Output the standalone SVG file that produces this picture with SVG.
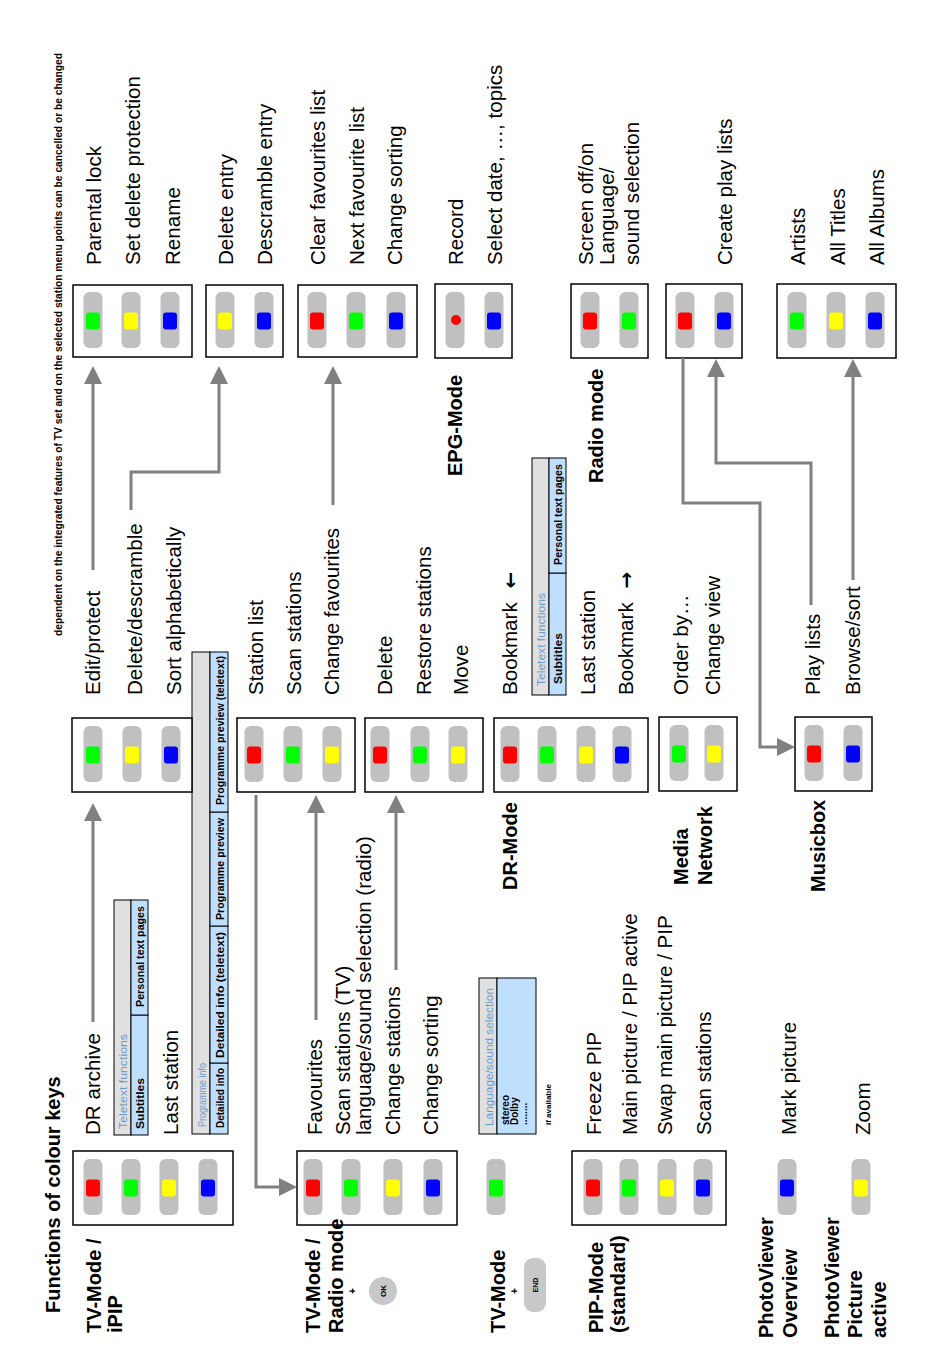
<svg xmlns="http://www.w3.org/2000/svg" xmlns:xlink="http://www.w3.org/1999/xlink" width="950" height="1369" viewBox="0 0 950 1369">
<style>
.box{fill:#fff;stroke:#000;stroke-width:1.5}
.key{fill:#c0c0c0}
.r{fill:#f00}.g{fill:#0f0}.y{fill:#ff0}.b{fill:#00f}
text{font-family:'Liberation Sans',Arial,sans-serif}
.t{font-size:20.6px}
.m{font-size:20px;font-weight:bold}
.hdr{fill:#e0e0e0;stroke:#000;stroke-width:1}
.cell{fill:#bfdfff;stroke:#000;stroke-width:1}
.ht{font-size:10.5px;fill:#6a9bd0}
.ct{font-size:10.5px;font-weight:bold}
.ar{font-family:'DejaVu Sans',sans-serif;font-weight:bold;font-size:20px}
.conn{fill:none;stroke:#808080;stroke-width:3}
</style>
<defs>
<rect id="k" class="key" x="-9.5" y="-28" width="19" height="56" rx="6"/>
<rect id="sq" x="-7" y="-8.5" width="14" height="17" rx="3"/>
<marker id="ah" markerUnits="userSpaceOnUse" markerWidth="18" markerHeight="18" viewBox="0 0 18 18" refX="0" refY="9" orient="auto">
<path d="M0,0 L18,9 L0,18 z" fill="#808080"/>
</marker>
</defs>
<rect width="950" height="1369" fill="#fff"/>

<g id="note"><text transform="translate(62,636) rotate(-90)" style="font-size:10px;font-weight:bold" textLength="583" lengthAdjust="spacingAndGlyphs">dependent on the integrated features of TV set and on the selected station menu points can be cancelled or be changed</text></g>
<g id="title"><text class="m" transform="translate(60,1313) rotate(-90)">Functions of colour keys</text></g>

<!-- Row 1 -->
<g id="tv-ipip">
<rect class="box" x="73" y="1151" width="160" height="74"/>
<use href="#k" x="93" y="1187"/><use href="#sq" class="r" x="93" y="1188"/>
<use href="#k" x="131" y="1187"/><use href="#sq" class="g" x="131" y="1188"/>
<use href="#k" x="169" y="1187"/><use href="#sq" class="y" x="169" y="1188"/>
<use href="#k" x="208" y="1187"/><use href="#sq" class="b" x="208" y="1188"/>
<text class="m" transform="translate(101,1333) rotate(-90)">TV-Mode /</text>
<text class="m" transform="translate(122,1333) rotate(-90)">iPIP</text>
</g>
<g id="tv-ipip-items">
<text class="t" transform="translate(100,1135) rotate(-90)">DR archive</text>
<text class="t" transform="translate(178,1135) rotate(-90)">Last station</text>
</g>
<g id="teletext1">
<rect class="hdr" x="114" y="900" width="17" height="235"/>
<rect class="cell" x="131" y="1015" width="17" height="120"/>
<rect class="cell" x="131" y="900" width="17" height="115"/>
<text class="ht" transform="translate(127,1129) rotate(-90)" textLength="95" lengthAdjust="spacingAndGlyphs">Teletext functions</text>
<text class="ct" transform="translate(144,1129) rotate(-90)" textLength="51" lengthAdjust="spacingAndGlyphs">Subtitles</text>
<text class="ct" transform="translate(144,1007) rotate(-90)" textLength="101" lengthAdjust="spacingAndGlyphs">Personal text pages</text>
</g>
<g id="proginfo">
<rect class="hdr" x="192" y="652" width="18" height="482"/>
<rect class="cell" x="210" y="1063" width="18" height="71"/>
<rect class="cell" x="210" y="926" width="18" height="137"/>
<rect class="cell" x="210" y="812" width="18" height="114"/>
<rect class="cell" x="210" y="652" width="18" height="160"/>
<text class="ht" transform="translate(206,1127) rotate(-90)" textLength="64" lengthAdjust="spacingAndGlyphs">Programme info</text>
<text class="ct" transform="translate(224,1128) rotate(-90)" textLength="60" lengthAdjust="spacingAndGlyphs">Detailed info</text>
<text class="ct" transform="translate(224,1058) rotate(-90)" textLength="126" lengthAdjust="spacingAndGlyphs">Detailed info (teletext)</text>
<text class="ct" transform="translate(224,920) rotate(-90)" textLength="102" lengthAdjust="spacingAndGlyphs">Programme preview</text>
<text class="ct" transform="translate(224,805) rotate(-90)" textLength="149" lengthAdjust="spacingAndGlyphs">Programme preview (teletext)</text>
</g>

<g id="tv-radio">
<rect class="box" x="297" y="1151" width="160" height="74"/>
<use href="#k" x="313" y="1187"/><use href="#sq" class="r" x="313" y="1188"/>
<use href="#k" x="351" y="1187"/><use href="#sq" class="g" x="351" y="1188"/>
<use href="#k" x="393" y="1187"/><use href="#sq" class="y" x="393" y="1188"/>
<use href="#k" x="433" y="1187"/><use href="#sq" class="b" x="433" y="1188"/>
<text class="m" transform="translate(320,1333) rotate(-90)">TV-Mode /</text>
<text class="m" transform="translate(343,1333) rotate(-90)">Radio mode</text>
<text transform="translate(356,1294) rotate(-90)" style="font-size:10px;font-weight:bold">+</text>
<circle cx="383" cy="1291" r="14" fill="#c8c8c8"/>
<text transform="translate(386,1291) rotate(-90)" style="font-size:8px;font-weight:bold" text-anchor="middle">OK</text>
</g>
<g id="tv-radio-items">
<text class="t" transform="translate(322,1135) rotate(-90)">Favourites</text>
<text class="t" transform="translate(350,1135) rotate(-90)">Scan stations (TV)</text>
<text class="t" transform="translate(371,1135) rotate(-90)">language/sound selection (radio)</text>
<text class="t" transform="translate(400,1135) rotate(-90)">Change stations</text>
<text class="t" transform="translate(438,1135) rotate(-90)">Change sorting</text>
</g>

<g id="tv-end">
<use href="#k" x="496" y="1187"/><use href="#sq" class="g" x="496" y="1188"/>
<text class="m" transform="translate(505,1333) rotate(-90)">TV-Mode</text>
<text transform="translate(518,1294) rotate(-90)" style="font-size:10px;font-weight:bold">+</text>
<rect x="524" y="1258" width="22" height="54" rx="9" fill="#c8c8c8"/>
<text transform="translate(538,1285) rotate(-90)" style="font-size:7px;font-weight:bold" text-anchor="middle">END</text>
</g>
<g id="langsel">
<rect class="hdr" x="479" y="978" width="18" height="156"/>
<rect class="cell" x="497" y="978" width="39" height="156"/>
<text class="ht" transform="translate(493,1126) rotate(-90)" textLength="138" lengthAdjust="spacingAndGlyphs">Language/sound selection</text>
<text transform="translate(509,1125) rotate(-90)" style="font-size:10px;font-weight:bold">stereo</text>
<text transform="translate(518,1125) rotate(-90)" style="font-size:10px;font-weight:bold">Dolby</text>
<text transform="translate(527,1125) rotate(-90)" style="font-size:10px;font-weight:bold">........</text>
<text transform="translate(551,1125) rotate(-90)" style="font-size:8px;font-weight:bold">if available</text>
</g>

<g id="pip">
<rect class="box" x="572" y="1151" width="154" height="74"/>
<use href="#k" x="593" y="1187"/><use href="#sq" class="r" x="593" y="1188"/>
<use href="#k" x="629" y="1187"/><use href="#sq" class="g" x="629" y="1188"/>
<use href="#k" x="667" y="1187"/><use href="#sq" class="y" x="667" y="1188"/>
<use href="#k" x="703" y="1187"/><use href="#sq" class="b" x="703" y="1188"/>
<text class="m" transform="translate(603,1333) rotate(-90)">PIP-Mode</text>
<text class="m" transform="translate(625,1333) rotate(-90)">(standard)</text>
</g>
<g id="pip-items">
<text class="t" transform="translate(601,1135) rotate(-90)">Freeze PIP</text>
<text class="t" transform="translate(637,1135) rotate(-90)">Main picture / PIP active</text>
<text class="t" transform="translate(672,1135) rotate(-90)">Swap main picture / PIP</text>
<text class="t" transform="translate(711,1135) rotate(-90)">Scan stations</text>
</g>

<g id="photo-overview">
<use href="#k" x="787" y="1187"/><use href="#sq" class="b" x="787" y="1188"/>
<text class="m" transform="translate(773,1338) rotate(-90)">PhotoViewer</text>
<text class="m" transform="translate(797,1338) rotate(-90)">Overview</text>
<text class="t" transform="translate(796,1135) rotate(-90)">Mark picture</text>
</g>
<g id="photo-active">
<use href="#k" x="861" y="1187"/><use href="#sq" class="y" x="861" y="1188"/>
<text class="m" transform="translate(839,1338) rotate(-90)">PhotoViewer</text>
<text class="m" transform="translate(862,1338) rotate(-90)">Picture</text>
<text class="m" transform="translate(886,1338) rotate(-90)">active</text>
<text class="t" transform="translate(870,1135) rotate(-90)">Zoom</text>
</g>

<!-- Row 2 -->
<g id="dr-archive">
<rect class="box" x="72" y="718" width="120" height="74"/>
<use href="#k" x="93" y="754"/><use href="#sq" class="g" x="93" y="755"/>
<use href="#k" x="132" y="754"/><use href="#sq" class="y" x="132" y="755"/>
<use href="#k" x="171" y="754"/><use href="#sq" class="b" x="171" y="755"/>
<text class="t" transform="translate(100,695) rotate(-90)">Edit/protect</text>
<text class="t" transform="translate(142,695) rotate(-90)">Delete/descramble</text>
<text class="t" transform="translate(181,695) rotate(-90)">Sort alphabetically</text>
</g>
<g id="favourites">
<rect class="box" x="237" y="718" width="118" height="74"/>
<use href="#k" x="254" y="754"/><use href="#sq" class="r" x="254" y="755"/>
<use href="#k" x="293" y="754"/><use href="#sq" class="g" x="293" y="755"/>
<use href="#k" x="332" y="754"/><use href="#sq" class="y" x="332" y="755"/>
<text class="t" transform="translate(263,695) rotate(-90)">Station list</text>
<text class="t" transform="translate(301,695) rotate(-90)">Scan stations</text>
<text class="t" transform="translate(339,695) rotate(-90)">Change favourites</text>
</g>
<g id="change-stations">
<rect class="box" x="365" y="718" width="118" height="74"/>
<use href="#k" x="380" y="754"/><use href="#sq" class="r" x="380" y="755"/>
<use href="#k" x="420" y="754"/><use href="#sq" class="g" x="420" y="755"/>
<use href="#k" x="458" y="754"/><use href="#sq" class="y" x="458" y="755"/>
<text class="t" transform="translate(392,695) rotate(-90)">Delete</text>
<text class="t" transform="translate(431,695) rotate(-90)">Restore stations</text>
<text class="t" transform="translate(468,695) rotate(-90)">Move</text>
</g>
<g id="dr-mode">
<rect class="box" x="494" y="718" width="154" height="74"/>
<use href="#k" x="510" y="754"/><use href="#sq" class="r" x="510" y="755"/>
<use href="#k" x="547" y="754"/><use href="#sq" class="g" x="547" y="755"/>
<use href="#k" x="586" y="754"/><use href="#sq" class="y" x="586" y="755"/>
<use href="#k" x="622" y="754"/><use href="#sq" class="b" x="622" y="755"/>
<text class="m" transform="translate(517,890) rotate(-90)">DR-Mode</text>
<text class="t" transform="translate(517,695) rotate(-90)">Bookmark <tspan class="ar" dx="8">←</tspan></text>
<text class="t" transform="translate(595,695) rotate(-90)">Last station</text>
<text class="t" transform="translate(633,695) rotate(-90)">Bookmark <tspan class="ar" dx="8">→</tspan></text>
</g>
<g id="teletext2">
<rect class="hdr" x="532" y="458" width="17" height="237"/>
<rect class="cell" x="549" y="573" width="17" height="122"/>
<rect class="cell" x="549" y="458" width="17" height="115"/>
<text class="ht" transform="translate(545,686) rotate(-90)" textLength="93" lengthAdjust="spacingAndGlyphs">Teletext functions</text>
<text class="ct" transform="translate(562,684) rotate(-90)" textLength="51" lengthAdjust="spacingAndGlyphs">Subtitles</text>
<text class="ct" transform="translate(562,565) rotate(-90)" textLength="101" lengthAdjust="spacingAndGlyphs">Personal text pages</text>
</g>
<g id="media-network">
<rect class="box" x="659" y="717" width="78" height="74"/>
<use href="#k" x="679" y="753"/><use href="#sq" class="g" x="679" y="754"/>
<use href="#k" x="714" y="753"/><use href="#sq" class="y" x="714" y="754"/>
<text class="m" transform="translate(688,885) rotate(-90)">Media</text>
<text class="m" transform="translate(712,885) rotate(-90)">Network</text>
<text class="t" transform="translate(688,695) rotate(-90)">Order by…</text>
<text class="t" transform="translate(720,695) rotate(-90)">Change view</text>
</g>
<g id="musicbox">
<rect class="box" x="795" y="717" width="77" height="74"/>
<use href="#k" x="814" y="753"/><use href="#sq" class="r" x="814" y="754"/>
<use href="#k" x="853" y="753"/><use href="#sq" class="b" x="853" y="754"/>
<text class="m" transform="translate(825,892) rotate(-90)">Musicbox</text>
<text class="t" transform="translate(820,695) rotate(-90)">Play lists</text>
<text class="t" transform="translate(860,695) rotate(-90)">Browse/sort</text>
</g>

<!-- Row 3 -->
<g id="edit-protect">
<rect class="box" x="73" y="285" width="119" height="72"/>
<use href="#k" x="93" y="320"/><use href="#sq" class="g" x="93" y="321"/>
<use href="#k" x="131" y="320"/><use href="#sq" class="y" x="131" y="321"/>
<use href="#k" x="170" y="320"/><use href="#sq" class="b" x="170" y="321"/>
<text class="t" transform="translate(101,265) rotate(-90)">Parental lock</text>
<text class="t" transform="translate(140,265) rotate(-90)">Set delete protection</text>
<text class="t" transform="translate(180,265) rotate(-90)">Rename</text>
</g>
<g id="delete-descramble">
<rect class="box" x="206" y="285" width="77" height="72"/>
<use href="#k" x="225" y="320"/><use href="#sq" class="y" x="225" y="321"/>
<use href="#k" x="264" y="320"/><use href="#sq" class="b" x="264" y="321"/>
<text class="t" transform="translate(233,265) rotate(-90)">Delete entry</text>
<text class="t" transform="translate(272,265) rotate(-90)">Descramble entry</text>
</g>
<g id="change-favourites">
<rect class="box" x="298" y="285" width="119" height="72"/>
<use href="#k" x="317" y="320"/><use href="#sq" class="r" x="317" y="321"/>
<use href="#k" x="356" y="320"/><use href="#sq" class="g" x="356" y="321"/>
<use href="#k" x="396" y="320"/><use href="#sq" class="b" x="396" y="321"/>
<text class="t" transform="translate(325,265) rotate(-90)">Clear favourites list</text>
<text class="t" transform="translate(364,265) rotate(-90)">Next favourite list</text>
<text class="t" transform="translate(402,265) rotate(-90)">Change sorting</text>
</g>
<g id="epg-mode">
<rect class="box" x="435" y="284" width="77" height="74"/>
<use href="#k" x="455" y="320"/><circle cx="456" cy="320" r="5" fill="#f00"/>
<use href="#k" x="494" y="320"/><use href="#sq" class="b" x="494" y="321"/>
<text class="m" transform="translate(462,476) rotate(-90)">EPG-Mode</text>
<text class="t" transform="translate(463,265) rotate(-90)">Record</text>
<text class="t" transform="translate(502,265) rotate(-90)">Select date, …, topics</text>
</g>
<g id="radio-mode">
<rect class="box" x="571" y="284" width="77" height="74"/>
<use href="#k" x="590" y="320"/><use href="#sq" class="r" x="590" y="321"/>
<use href="#k" x="629" y="320"/><use href="#sq" class="g" x="629" y="321"/>
<text class="m" transform="translate(603,483) rotate(-90)">Radio mode</text>
<text class="t" transform="translate(593,265) rotate(-90)">Screen off/on</text>
<text class="t" transform="translate(614,265) rotate(-90)">Language/</text>
<text class="t" transform="translate(639,265) rotate(-90)">sound selection</text>
</g>
<g id="play-lists">
<rect class="box" x="666" y="284" width="76" height="74"/>
<use href="#k" x="685" y="320"/><use href="#sq" class="r" x="685" y="321"/>
<use href="#k" x="724" y="320"/><use href="#sq" class="b" x="724" y="321"/>
<text class="t" transform="translate(732,265) rotate(-90)">Create play lists</text>
</g>
<g id="browse-sort">
<rect class="box" x="777" y="284" width="119" height="74"/>
<use href="#k" x="797" y="320"/><use href="#sq" class="g" x="797" y="321"/>
<use href="#k" x="836" y="320"/><use href="#sq" class="y" x="836" y="321"/>
<use href="#k" x="875" y="320"/><use href="#sq" class="b" x="875" y="321"/>
<text class="t" transform="translate(805,265) rotate(-90)">Artists</text>
<text class="t" transform="translate(845,265) rotate(-90)">All Titles</text>
<text class="t" transform="translate(884,265) rotate(-90)">All Albums</text>
</g>

<g id="connectors">
<path class="conn" marker-end="url(#ah)" d="M93,1022 V821"/>
<path class="conn" marker-end="url(#ah)" d="M93,570 V384"/>
<path class="conn" marker-end="url(#ah)" d="M131,510 V472 H219 V384"/>
<path class="conn" marker-end="url(#ah)" d="M333,505 V384"/>
<path class="conn" marker-end="url(#ah)" d="M256,795 V1187 H279"/>
<path class="conn" marker-end="url(#ah)" d="M316,1020 V813"/>
<path class="conn" marker-end="url(#ah)" d="M396,970 V813"/>
<path class="conn" marker-end="url(#ah)" d="M683,358 V503 H760 V747 H777"/>
<path class="conn" marker-end="url(#ah)" d="M811,605 V463 H716 V377"/>
<path class="conn" marker-end="url(#ah)" d="M853,580 V377"/>
</g>
</svg>
